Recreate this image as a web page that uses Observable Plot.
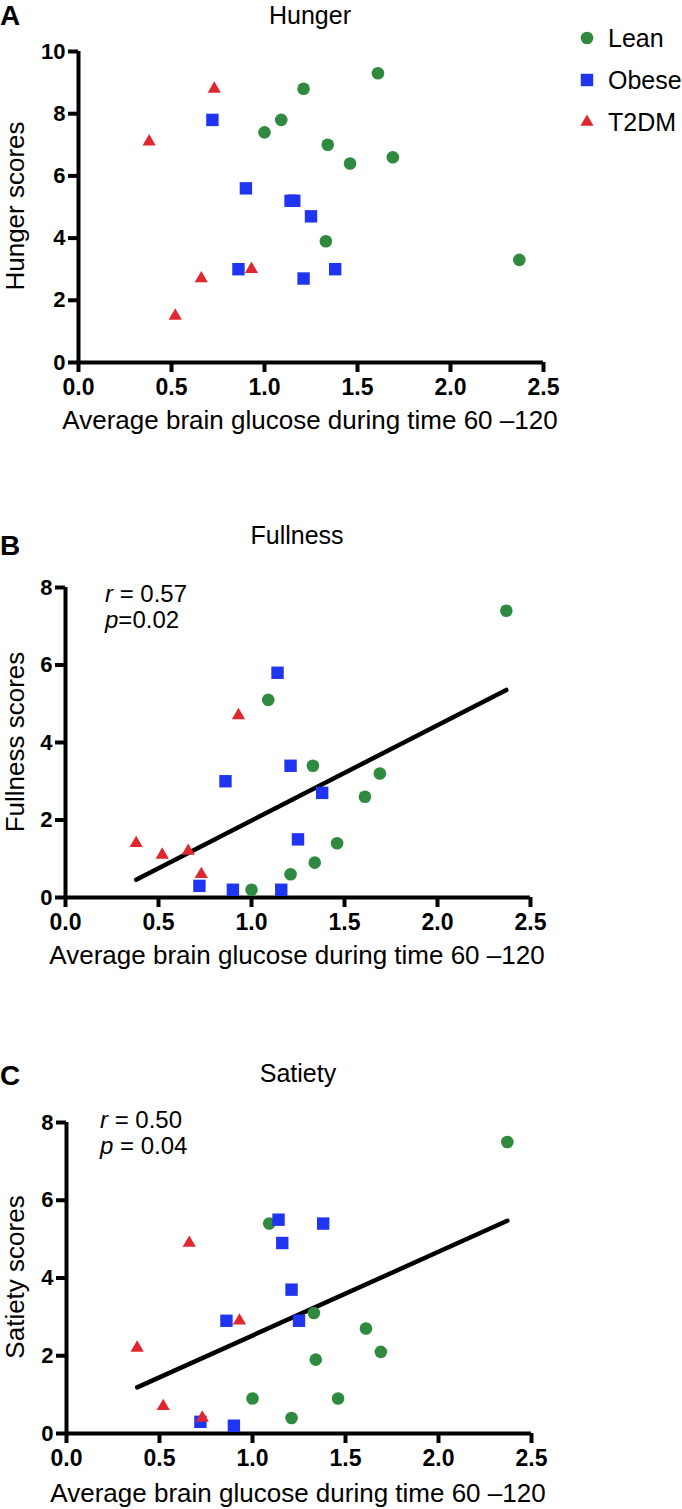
<!DOCTYPE html>
<html><head><meta charset="utf-8">
<script src="https://cdn.jsdelivr.net/npm/d3@7"></script>
<script src="https://cdn.jsdelivr.net/npm/@observablehq/plot@0.6"></script>
<style>
body{margin:0;background:#fff;}
#root{position:relative;width:682px;height:1509px;font-family:"Liberation Sans",Arial,Helvetica,sans-serif;}
#root > svg{position:absolute;left:0;}
</style></head><body><div id="root"></div>
<script>
// ---- data ----
const groups = ["Lean", "Obese", "T2DM"];
const groupColors = ["#2f8a3f", "#1f35f2", "#e0262e"];
const xTicks = [0, 0.5, 1.0, 1.5, 2.0, 2.5];
const yTicksHunger = [0, 2, 4, 6, 8, 10];
const yTicksOther = [0, 2, 4, 6, 8];

const xLean  = [1.00, 1.09, 1.21, 1.33, 1.34, 1.46, 1.61, 1.69, 2.37];
const xObese = [0.72, 0.86, 0.90, 1.14, 1.16, 1.21, 1.25, 1.38];
const xT2DM  = [0.38, 0.52, 0.66, 0.73, 0.93];

const hungerLean  = [7.4, 7.8, 8.8, 3.9, 7.0, 6.4, 9.3, 6.6, 3.3];
const hungerObese = [7.8, 3.0, 5.6, 5.2, 5.2, 2.7, 4.7, 3.0];
const hungerT2DM  = [7.1, 1.5, 2.7, 8.8, 3.0];

const fullnessLean  = [0.2, 5.1, 0.6, 3.4, 0.9, 1.4, 2.6, 3.2, 7.4];
const fullnessObese = [0.3, 3.0, 0.2, 5.8, 0.2, 3.4, 1.5, 2.7];
const fullnessT2DM  = [1.4, 1.1, 1.2, 0.6, 4.7];

const satietyLean  = [0.9, 5.4, 0.4, 3.1, 1.9, 0.9, 2.7, 2.1, 7.5];
const satietyObese = [0.3, 2.9, 0.2, 5.5, 4.9, 3.7, 2.9, 5.4];
const satietyT2DM  = [2.2, 0.7, 4.9, 0.4, 2.9];

const stats = {fullness: {r: "0.57", p: "0.02"}, satiety: {r: "0.50", p: "0.04"}};

// ---- helpers ----
function rows(yL, yO, yT) {
  const out = [];
  xLean.forEach((x, i) => out.push({group: "Lean", x, y: yL[i]}));
  xObese.forEach((x, i) => out.push({group: "Obese", x, y: yO[i]}));
  xT2DM.forEach((x, i) => out.push({group: "T2DM", x, y: yT[i]}));
  return out;
}
const symbolOf = {Lean: "circle", Obese: "square", T2DM: "triangle"};
const rOf = {Lean: 6.3, Obese: 7.0, T2DM: 4.9};
const FONT = '"Liberation Sans", Arial, Helvetica, sans-serif';

function panel({data, yMax, yTicks, top, left, plotTop, plotBottom, height, regression}) {
  const marks = [
    Plot.axisX({ticks: xTicks, tickSize: 10, tickPadding: 6, strokeWidth: 4, tickFormat: d3.format(".1f"), label: null,
      fontSize: 23, fontWeight: "bold", fontFamily: FONT}),
    Plot.axisY({ticks: yTicks, tickSize: 10, tickPadding: 3, strokeWidth: 4, label: null,
      fontSize: 22, fontWeight: "bold", fontFamily: FONT}),
    Plot.ruleX([0], {strokeWidth: 4, stroke: "black"}),
    Plot.ruleY([0], {strokeWidth: 4, stroke: "black"})
  ];
  if (regression) marks.push(Plot.linearRegressionY(data, {x: "x", y: "y", stroke: "black", strokeWidth: 4.5, ci: 0}));
  groups.forEach((g, i) => {
    marks.push(Plot.dot(data.filter(d => d.group === g), {
      x: "x", y: "y", symbol: () => symbolOf[g], r: rOf[g], fill: groupColors[i], stroke: "none"
    }));
  });
  const svg = Plot.plot({
    width: 682, height,
    marginLeft: left, marginRight: 682 - (left + 465),
    marginTop: plotTop - top, marginBottom: top + height - plotBottom,
    x: {domain: [0, 2.5]},
    y: {domain: [0, yMax]},
    symbol: {type: "identity"},
    style: {fontFamily: FONT, fontSize: "22px", fontWeight: "bold", color: "black", background: "transparent", overflow: "visible"},
    marks
  });
  svg.style.top = top + "px";
  document.getElementById("root").appendChild(svg);
}

panel({data: rows(hungerLean, hungerObese, hungerT2DM), yMax: 10, yTicks: yTicksHunger,
  top: 0, left: 78, plotTop: 51, plotBottom: 362, height: 440, regression: false});
panel({data: rows(fullnessLean, fullnessObese, fullnessT2DM), yMax: 8, yTicks: yTicksOther,
  top: 560, left: 65, plotTop: 587, plotBottom: 897, height: 400, regression: true});
panel({data: rows(satietyLean, satietyObese, satietyT2DM), yMax: 8, yTicks: yTicksOther,
  top: 1100, left: 66, plotTop: 1122, plotBottom: 1433, height: 409, regression: true});

// ---- text overlay (panel letters, titles, axis titles, stats, legend) ----
const ov = d3.select("#root").append("svg")
  .attr("width", 682).attr("height", 1509)
  .style("top", "0px").style("pointer-events", "none")
  .attr("font-family", FONT);

function txt(s, x, y, size, opts = {}) {
  return ov.append("text").attr("x", x).attr("y", y).attr("font-size", size)
    .attr("font-weight", opts.weight || "normal").attr("text-anchor", opts.anchor || "start")
    .attr("fill", "black").attr("transform", opts.rotate ? `rotate(-90 ${x} ${y})` : null)
    .text(s);
}
function stat(rv, pv, x, y1, y2, spaced) {
  const t1 = ov.append("text").attr("x", x).attr("y", y1).attr("font-size", 24);
  t1.append("tspan").attr("font-style", "italic").text("r");
  t1.append("tspan").text(" = " + rv);
  const t2 = ov.append("text").attr("x", x).attr("y", y2).attr("font-size", 24);
  t2.append("tspan").attr("font-style", "italic").text("p");
  t2.append("tspan").text((spaced ? " = " : "=") + pv);
}
const xTitle = "Average brain glucose during time 60 \u2013120";

// Panel A
txt("A", 0, 25, 28, {weight: "bold"});
txt("Hunger", 310, 24, 25, {anchor: "middle"});
txt(xTitle, 310, 429, 26, {anchor: "middle"});
txt("Hunger scores", 24, 206, 26, {anchor: "middle", rotate: true});
// Panel B
txt("B", 0, 555, 28, {weight: "bold"});
txt("Fullness", 297, 544, 25, {anchor: "middle"});
txt(xTitle, 297, 964, 26, {anchor: "middle"});
txt("Fullness scores", 24, 742, 26, {anchor: "middle", rotate: true});
stat(stats.fullness.r, stats.fullness.p, 105, 602, 628, false);
// Panel C
txt("C", 0, 1085, 28, {weight: "bold"});
txt("Satiety", 298, 1082, 25, {anchor: "middle"});
txt(xTitle, 298, 1502, 26, {anchor: "middle"});
txt("Satiety scores", 24, 1277, 26, {anchor: "middle", rotate: true});
stat(stats.satiety.r, stats.satiety.p, 100, 1128, 1154, true);

// Legend
groups.forEach((g, i) => {
  const cy = 38 + i * 42;
  ov.append("path").attr("transform", `translate(587,${cy})`)
    .attr("d", d3.symbol(g === "Lean" ? d3.symbolCircle : g === "Obese" ? d3.symbolSquare : d3.symbolTriangle, Math.PI * rOf[g] * rOf[g])())
    .attr("fill", groupColors[i]);
  txt(g, 608, cy + 9, 25);
});
</script></body></html>
